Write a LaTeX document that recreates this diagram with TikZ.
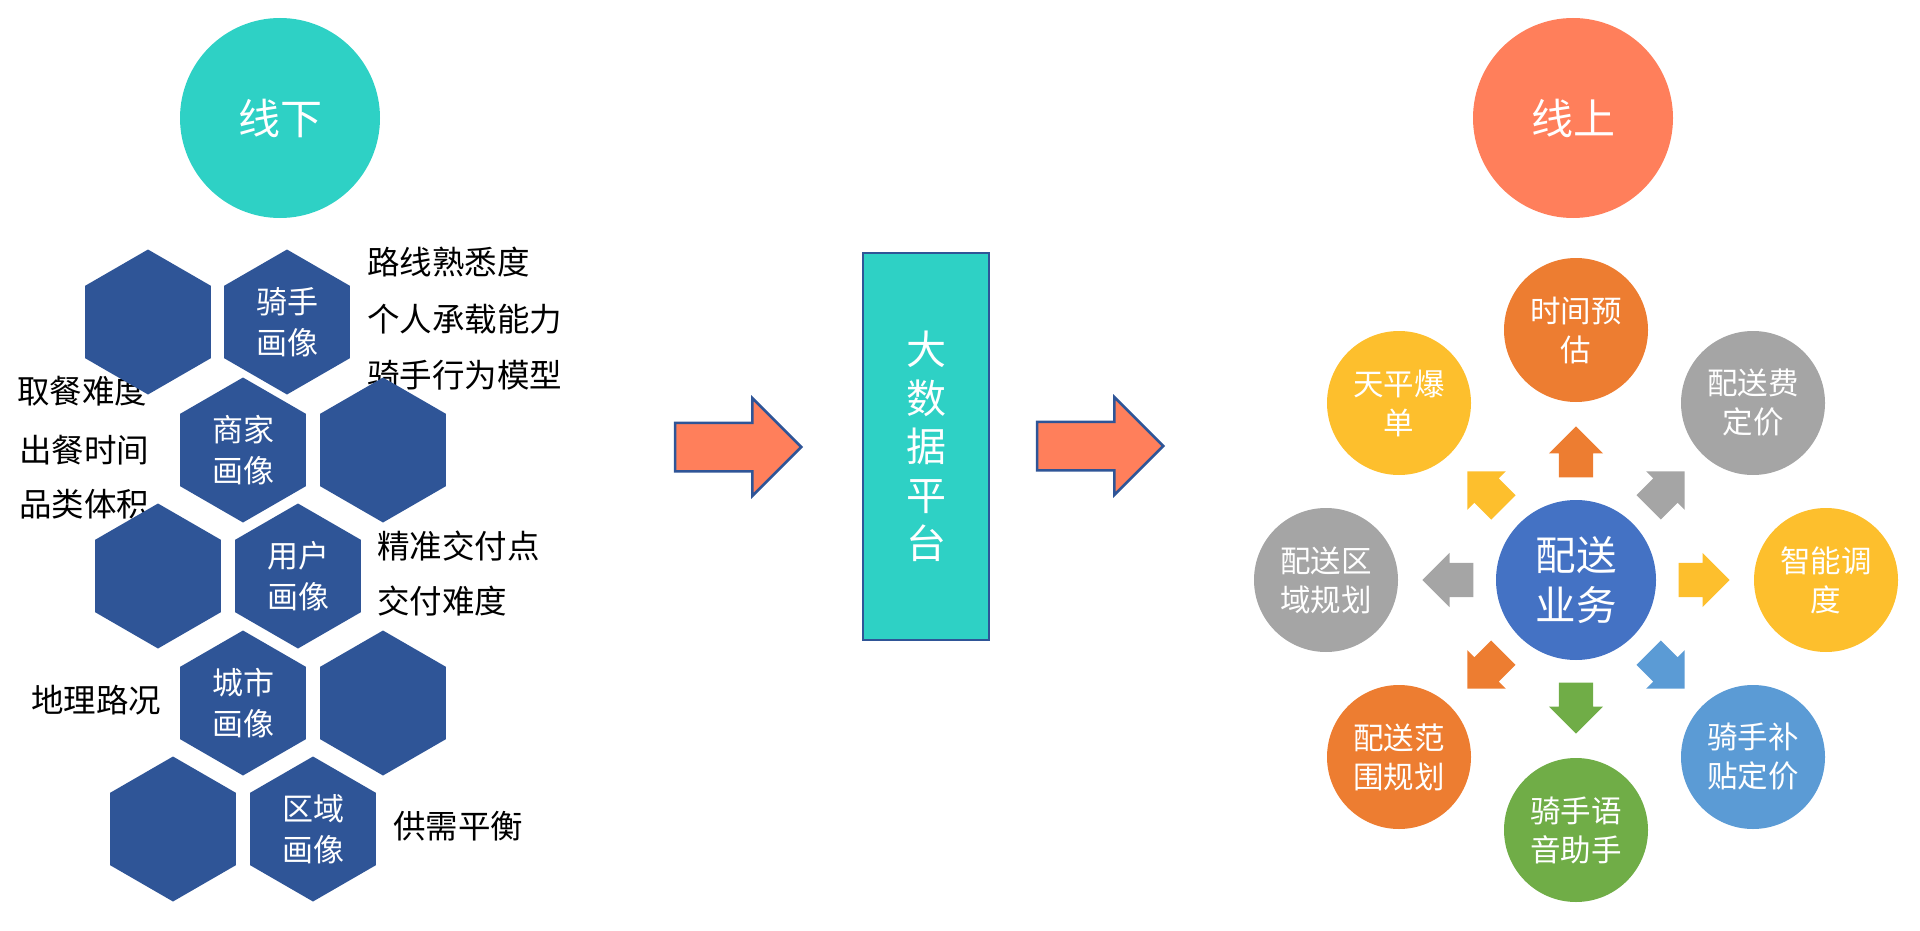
\documentclass[tikz,border=0pt]{standalone}
\usepackage{fontspec}
\setmainfont{Noto Sans CJK SC}
\usetikzlibrary{shapes.geometric,shapes.arrows,calc}

\definecolor{hexblue}{HTML}{2F5597}
\definecolor{platteal}{HTML}{2ED1C5}
\definecolor{coral}{HTML}{FF7F5B}
\definecolor{bizorange}{HTML}{ED7D31}
\definecolor{bizgray}{HTML}{A5A5A5}
\definecolor{bizgold}{HTML}{FDBF2D}
\definecolor{bizblue}{HTML}{5B9BD5}
\definecolor{bizgreen}{HTML}{70AD47}
\definecolor{bizcenter}{HTML}{4472C4}

\begin{document}
\begin{tikzpicture}[x=1pt, y=-1pt,
  every node/.style={font=\fontsize{31}{41}\selectfont},
  tag/.style={anchor=west, inner sep=0pt, font=\fontsize{32.5}{40}\selectfont},
  hexa/.style={regular polygon, regular polygon sides=6, regular polygon rotate=30,
    minimum size=145pt, inner sep=0pt, fill=hexblue, text=white, align=center},
  ball/.style={circle, minimum size=144pt, inner sep=0pt, text=white, align=center,
    font=\fontsize{30.5}{39}\selectfont},
  spoke/.style={single arrow, minimum height=51pt, minimum width=54pt,
    single arrow head extend=10pt, inner xsep=0pt, inner ysep=17pt, anchor=tip},
  bigarrow/.style={single arrow, draw=hexblue, line width=2.5pt, fill=coral,
    minimum height=126pt, single arrow head extend=24.5pt, inner xsep=0pt,
    inner ysep=23pt, anchor=tip}]
\useasboundingbox (0,0) rectangle (1920,931);

% offline side
\node[circle, fill=platteal, minimum size=200pt, text=white,
  font=\fontsize{42}{50}\selectfont] (offline) at (280,118) {线下};

\node[tag] (t1) at (367,262) {路线熟悉度};
\node[tag] (t2) at (367,319) {个人承载能力};
\node[tag] (t3) at (367,375) {骑手行为模型};
\node[tag] (t4) at (17,391) {取餐难度};
\node[tag] (t5) at (19,450) {出餐时间};
\node[tag] (t6) at (19,504) {品类体积};
\node[tag] (t7) at (377,546) {精准交付点};
\node[tag] (t8) at (377,601) {交付难度};
\node[tag] (t9) at (31,700) {地理路况};
\node[tag] (t10) at (393,826) {供需平衡};

\node[hexa] (blankA) at (148,322) {};
\node[hexa] (rider) at (287,322) {骑手\\画像};
\node[hexa] (shop) at (243,450) {商家\\画像};
\node[hexa] (blankB) at (383,450) {};
\node[hexa] (blankC) at (158,576) {};
\node[hexa] (user) at (298,576) {用户\\画像};
\node[hexa] (city) at (243,703) {城市\\画像};
\node[hexa] (blankD) at (383,703) {};
\node[hexa] (blankE) at (173,829) {};
\node[hexa] (area) at (313,829) {区域\\画像};

% platform
\node[bigarrow] (in) at (803,447) {};
\node[rectangle, draw=hexblue, line width=2.5pt, fill=platteal,
  minimum width=126pt, minimum height=387pt, text=white, align=center,
  font=\fontsize{40}{48.6}\selectfont] (bdp) at (926,446.5) {大\\数\\据\\平\\台};
\node[bigarrow] (out) at (1165,446) {};

% online side
\node[circle, fill=coral, minimum size=200pt, text=white,
  font=\fontsize{42}{50}\selectfont] (online) at (1573,118) {线上};

\node[circle, fill=bizcenter, minimum size=160pt, inner sep=0pt, text=white,
  align=center, font=\fontsize{40.5}{50}\selectfont] (biz) at (1576,580) {配送\\业务};

\node[ball, fill=bizorange] (est) at (1576,330) {时间预\\估};
\node[ball, fill=bizgray] (fee) at (1753,403) {配送费\\定价};
\node[ball, fill=bizgold] (disp) at (1826,580) {智能调\\度};
\node[ball, fill=bizblue] (subsidy) at (1753,757) {骑手补\\贴定价};
\node[ball, fill=bizgreen] (voice) at (1576,830) {骑手语\\音助手};
\node[ball, fill=bizorange] (range) at (1399,757) {配送范\\围规划};
\node[ball, fill=bizgray] (zone) at (1326,580) {配送区\\域规划};
\node[ball, fill=bizgold] (peak) at (1399,403) {天平爆\\单};

\foreach \ang/\col in {90/bizorange, 45/bizgray, 0/bizgold, -45/bizblue,
    -90/bizgreen, -135/bizorange, 180/bizgray, 135/bizgold}
  \node[spoke, fill=\col, rotate=\ang] (sp\ang) at ($(biz)+(\ang:154pt)$) {};
\end{tikzpicture}
\end{document}
